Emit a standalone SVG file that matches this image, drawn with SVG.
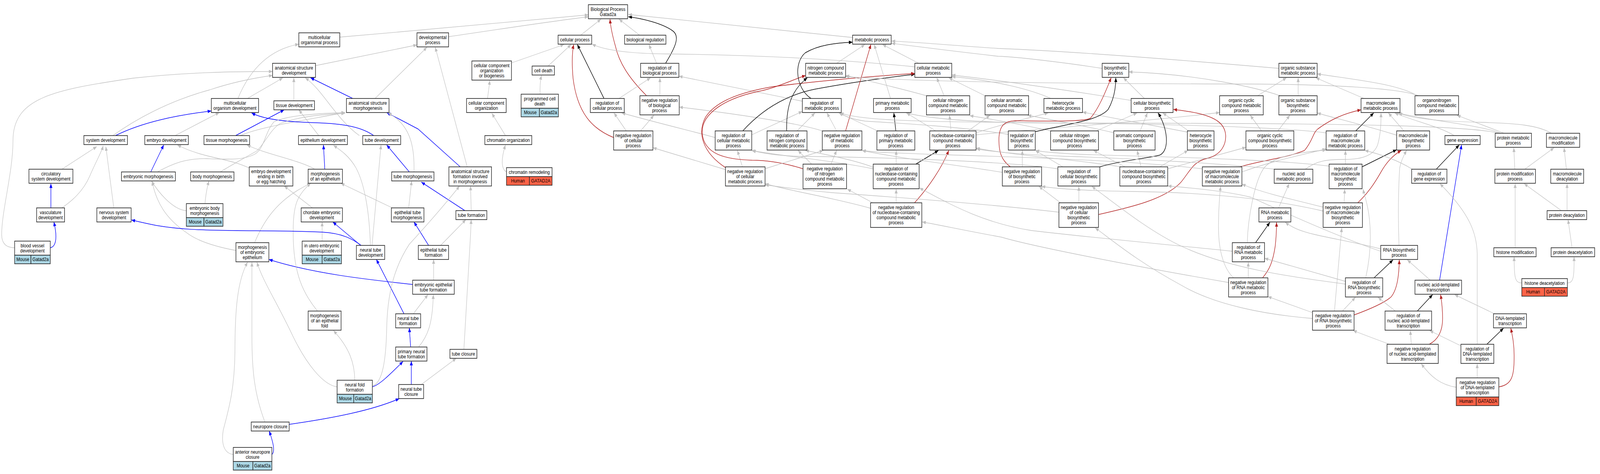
<svg xmlns="http://www.w3.org/2000/svg" width="4808" height="1213" viewBox="0 0 4808 1213" preserveAspectRatio="none">
<style>
svg{width:100vw;height:100vh}
text{font-family:"Liberation Sans",Arial,sans-serif;font-size:12.8px;text-anchor:middle;fill:#000}
.n rect{fill:#fff;stroke:#2b2b2b;stroke-width:1.7}
.n rect.mo{fill:#add8e6}
.n rect.hu{fill:#ff6347}
.eg{fill:none;stroke:#c0c0c0;stroke-width:1.3;marker-end:url(#ag)}
.eb{fill:none;stroke:#0000ff;stroke-width:1.5;marker-end:url(#ab)}
.ek{fill:none;stroke:#000;stroke-width:1.5;marker-end:url(#ak)}
.er{fill:none;stroke:#b22222;stroke-width:1.5;marker-end:url(#ar)}
</style>
<defs>
<marker id="ag" viewBox="0 0 11 9" refX="11" refY="4.5" markerWidth="11" markerHeight="9" markerUnits="userSpaceOnUse" orient="auto"><path d="M0,0L11,4.5L0,9z" fill="#c0c0c0"/></marker>
<marker id="ab" viewBox="0 0 11 9" refX="11" refY="4.5" markerWidth="11" markerHeight="9" markerUnits="userSpaceOnUse" orient="auto"><path d="M0,0L11,4.5L0,9z" fill="#0000ff"/></marker>
<marker id="ak" viewBox="0 0 11 9" refX="11" refY="4.5" markerWidth="11" markerHeight="9" markerUnits="userSpaceOnUse" orient="auto"><path d="M0,0L11,4.5L0,9z" fill="#000"/></marker>
<marker id="ar" viewBox="0 0 11 9" refX="11" refY="4.5" markerWidth="11" markerHeight="9" markerUnits="userSpaceOnUse" orient="auto"><path d="M0,0L11,4.5L0,9z" fill="#b22222"/></marker>
</defs>
<rect x="0" y="0" width="4808" height="1213" fill="#fff"/>
<g id="connectors">
<path class="eg" d="M1021,95 C1300,75 1600,50 1768,38"/>
<path class="eg" d="M1348,94 C1500,75 1650,55 1768,43"/>
<path class="eg" d="M715,252 C740,200 790,130 898,113"/>
<path class="eg" d="M744,252 C770,238 810,220 850,199"/>
<path class="eg" d="M948,168 L1253,115"/>
<path class="eg" d="M1127,252 L1283,121"/>
<path class="eg" d="M1404,427 L1308,121"/>
<path class="eb" d="M1060,252 L933,199"/>
<path class="eb" d="M1383,427 L1256,330 L1162,288"/>
<path class="eg" d="M883,258 L883,199"/>
<path class="eb" d="M708,347 L854,281"/>
<path class="eg" d="M722,347 C780,325 900,310 1037,288"/>
<path class="eg" d="M958,347 L898,281"/>
<path class="eg" d="M1080,347 C1010,305 970,230 917,199"/>
<path class="eb" d="M1123,347 C1090,327 1040,316 944,314 C860,312 790,305 756,289"/>
<path class="eg" d="M526,347 L659,288"/>
<path class="eb" d="M453,440 L492,371"/>
<path class="eg" d="M473,440 C520,418 560,405 620,406 C690,408 730,410 765,395 C795,380 795,340 823,312 C860,295 960,290 1037,288"/>
<path class="eg" d="M662,440 C700,420 740,402 772,386 C800,362 812,332 842,316 C900,297 980,292 1037,290"/>
<path class="eg" d="M616,521 C618,500 622,480 628,463"/>
<path class="eg" d="M560,539 C530,538 490,510 455,463"/>
<path class="eg" d="M749,430 C690,405 610,405 533,371"/>
<path class="eg" d="M939,532 L854,476"/>
<path class="eg" d="M968,617 L968,568"/>
<path class="eg" d="M946,433 C900,410 800,395 742,371"/>
<path class="eg" d="M765,621 C790,570 830,510 934,469"/>
<path class="eg" d="M709,641 C640,630 590,615 560,595 C500,560 470,520 457,464"/>
<path class="eb" d="M1240,728 C1100,715 940,700 808,664"/>
<path class="eg" d="M1303,717 L1303,664"/>
<path class="eb" d="M1288,628 L1244,568"/>
<path class="eg" d="M1324,628 L1400,562"/>
<path class="eg" d="M1228,532 L1237,463"/>
<path class="eg" d="M1179,532 L1024,469"/>
<path class="eb" d="M1230,440 L1162,371"/>
<path class="eg" d="M1244,440 C1246,380 1236,320 1166,289"/>
<path class="eb" d="M1397,539 L1266,466"/>
<path class="eg" d="M1416,539 L1414,476"/>
<path class="eb" d="M1214,803 L1131,664"/>
<path class="eg" d="M1242,803 L1286,754"/>
<path class="eb" d="M1234,888 L1230,839"/>
<path class="eg" d="M1258,888 C1285,860 1300,830 1302,754"/>
<path class="eg" d="M1394,894 L1414,600 L1416,562"/>
<path class="eb" d="M1236,984 L1236,924"/>
<path class="eg" d="M1266,984 L1371,917"/>
<path class="eb" d="M1119,990 C1140,985 1170,960 1211,925"/>
<path class="eg" d="M1066,973 C1066,930 1050,890 1002,846"/>
<path class="eg" d="M1013,990 C970,985 920,930 880,860 C830,770 790,720 772,671"/>
<path class="eg" d="M1119,988 C1150,980 1160,920 1162,840 C1164,760 1180,690 1230,625 C1300,560 1340,520 1381,476"/>
<path class="eg" d="M954,796 C910,750 882,700 881,600 C880,530 890,500 934,469"/>
<path class="eb" d="M869,1086 C1000,1070 1120,1050 1200,1020"/>
<path class="eg" d="M796,1080 C765,1010 757,950 757,860 L757,671"/>
<path class="eb" d="M817,1163 C828,1155 820,1130 809,1103"/>
<path class="eg" d="M701,1163 C670,1160 665,1130 671,1100 C690,1040 705,990 706,900 C706,800 712,720 744,671"/>
<path class="eb" d="M1085,628 C1060,612 1030,597 968,594 C900,591 800,591 700,590 C600,589 540,587 470,577 C440,572 420,568 395,563"/>
<path class="eb" d="M1084,628 L1000,568"/>
<path class="eg" d="M1118,628 L1145,371"/>
<path class="eg" d="M1113,628 C1110,540 1095,470 1070,430 C1050,400 1025,385 1002,372"/>
<path class="eg" d="M186,433 L291,375"/>
<path class="eb" d="M153,532 L153,470"/>
<path class="eg" d="M186,532 C215,515 250,490 270,450 C290,410 305,390 310,373"/>
<path class="eb" d="M151,634 C160,633 168,625 168,605 C168,590 165,580 162,568"/>
<path class="eg" d="M44,634 C15,634 5,620 5,600 C5,540 39,440 39,360 C39,250 160,230 400,200 C560,185 700,183 819,183"/>
<path class="eg" d="M342,532 L318,375"/>
<path class="eb" d="M347,347 C430,312 530,295 635,284"/>
<path class="eg" d="M339,347 C400,310 500,260 630,230 C700,210 760,200 819,193"/>
<path class="eb" d="M976,433 L972,371"/>
<path class="eg" d="M1519,347 L1478,290"/>
<path class="eg" d="M1465,252 L1472,206"/>
<path class="eg" d="M1537,161 L1695,114"/>
<path class="eg" d="M1522,440 C1505,432 1506,405 1519,371"/>
<path class="eg" d="M1623,241 C1622,220 1624,205 1627,193"/>
<path class="eg" d="M1647,169 L1716,114"/>
<path class="eg" d="M1745,90 L1806,49"/>
<path class="eg" d="M1922,90 L1860,49"/>
<path class="ek" d="M2000,162 C2030,120 2045,92 2020,78 C1990,60 1930,47 1888,43"/>
<path class="er" d="M1943,245 C1890,200 1860,160 1849,117 C1840,90 1835,70 1833,49"/>
<path class="eg" d="M2562,96 C2300,75 2050,50 1888,37"/>
<path class="eg" d="M1973,162 L1950,114"/>
<path class="ek" d="M1815,252 L1735,114"/>
<path class="er" d="M1844,352 C1780,330 1735,290 1722,200 C1718,160 1720,130 1724,114"/>
<path class="eg" d="M2749,171 C2500,150 2250,140 2000,138 C1900,137 1820,130 1779,113"/>
<path class="eg" d="M1860,252 L1955,199"/>
<path class="eg" d="M1983,245 L1983,199"/>
<path class="eg" d="M2411,259 L2040,195"/>
<path class="eg" d="M1925,335 L1965,295"/>
<path class="eg" d="M2471,335 C2400,315 2200,290 2041,274"/>
<path class="eg" d="M1882,335 L1845,289"/>
<path class="eg" d="M2149,352 C2100,340 2000,320 1868,289"/>
<path class="eg" d="M2180,434 L1962,378"/>
<path class="eg" d="M2231,427 L2216,385"/>
<path class="ek" d="M2232,335 C2280,290 2350,245 2450,228 C2550,212 2650,200 2749,190"/>
<path class="er" d="M2182,430 C2110,390 2095,340 2120,300 C2150,260 2220,237 2320,222 C2480,205 2620,195 2749,188"/>
<path class="er" d="M2413,432 C2350,415 2300,410 2260,410 C2180,408 2115,395 2110,340 C2108,290 2180,250 2290,232 C2340,222 2380,205 2421,193"/>
<path class="eg" d="M2514,162 L2599,114"/>
<path class="eg" d="M2761,162 L2652,114"/>
<path class="eg" d="M2676,252 L2627,114"/>
<path class="ek" d="M2437,252 C2390,225 2385,160 2420,135 C2460,115 2510,110 2562,108"/>
<path class="er" d="M2541,335 L2617,114"/>
<path class="eg" d="M3843,175 C3500,150 3200,130 3000,124 C2850,115 2750,108 2679,105"/>
<path class="eg" d="M3312,175 C3200,160 3050,145 3000,144 C2850,130 2750,118 2679,111"/>
<path class="eg" d="M2514,335 L2485,289"/>
<path class="eg" d="M2395,335 L2449,289"/>
<path class="eg" d="M2259,345 L2411,285"/>
<path class="eg" d="M2637,335 L2521,289"/>
<path class="ek" d="M2692,335 L2686,289"/>
<path class="eg" d="M2298,432 L2474,385"/>
<path class="ek" d="M2364,335 C2362,270 2380,230 2426,199"/>
<path class="eg" d="M2439,420 L2398,385"/>
<path class="eg" d="M2497,420 L2514,385"/>
<path class="eg" d="M2693,420 L2693,385"/>
<path class="eg" d="M2624,428 C2570,410 2480,395 2420,385"/>
<path class="eg" d="M2624,432 C2500,410 2350,400 2258,385"/>
<path class="ek" d="M2752,420 L2820,385"/>
<path class="eg" d="M2693,519 L2693,484"/>
<path class="eg" d="M2623,519 L2546,484"/>
<path class="er" d="M2748,519 C2790,480 2830,430 2851,385"/>
<path class="eg" d="M2616,533 C2500,505 2380,490 2299,470"/>
<path class="eg" d="M3182,543 C3000,525 2700,505 2500,493 C2400,485 2340,478 2299,473"/>
<path class="eg" d="M2858,335 L2853,295"/>
<path class="eg" d="M2909,335 L2975,295"/>
<path class="eg" d="M2933,340 C3000,320 3100,300 3150,289"/>
<path class="eg" d="M2933,345 C3100,330 3400,315 3665,288"/>
<path class="eg" d="M2812,335 L2724,289"/>
<path class="eg" d="M2837,245 L2815,199"/>
<path class="eg" d="M2784,245 C2700,225 2600,205 2541,193"/>
<path class="eg" d="M2960,245 L2851,199"/>
<path class="eg" d="M3158,252 C3100,230 3000,207 2860,196"/>
<path class="eg" d="M3399,257 C3200,230 3000,205 2860,192"/>
<path class="eg" d="M3439,252 L3376,199"/>
<path class="eg" d="M3779,245 L3866,199"/>
<path class="eg" d="M3901,245 L3901,199"/>
<path class="eg" d="M3847,245 C3780,225 3600,190 3392,184"/>
<path class="eg" d="M4099,252 L3954,199"/>
<path class="eg" d="M4259,245 C4200,215 4080,205 3958,189"/>
<path class="eg" d="M4264,245 C4200,225 4000,216 3750,215 C3300,214 2800,212 2541,196"/>
<path class="eg" d="M4510,341 C4450,320 4300,310 4200,289"/>
<path class="eg" d="M4520,341 L4378,295"/>
<path class="eg" d="M4505,341 C4400,318 3900,315 3200,315 C2950,315 2800,305 2723,289"/>
<path class="eg" d="M4662,341 C4620,320 4560,316 4450,313 C4300,310 4230,300 4203,289"/>
<path class="eg" d="M4552,433 L4549,378"/>
<path class="eg" d="M4582,433 L4670,378"/>
<path class="eg" d="M4707,433 L4700,378"/>
<path class="eg" d="M4692,539 L4580,470"/>
<path class="eg" d="M4709,539 L4709,470"/>
<path class="eg" d="M4553,634 L4553,470"/>
<path class="eg" d="M4724,634 L4712,562"/>
<path class="eg" d="M4573,724 C4552,724 4550,710 4550,657"/>
<path class="eg" d="M4710,724 C4728,724 4731,710 4730,657"/>
<path class="eg" d="M3791,335 L3757,295"/>
<path class="eg" d="M3840,335 L3876,295"/>
<path class="eg" d="M4219,335 L4172,289"/>
<path class="eg" d="M4197,346 C4100,320 4000,300 3958,289"/>
<path class="eg" d="M3294,335 L3417,289"/>
<path class="eg" d="M3157,335 C3050,315 2980,305 2914,296"/>
<path class="eg" d="M3426,335 L3448,289"/>
<path class="eg" d="M3348,340 C3250,320 3150,305 3088,295"/>
<path class="eg" d="M3568,338 L3253,287"/>
<path class="eg" d="M3572,335 L3494,289"/>
<path class="eg" d="M3368,427 C3250,410 3050,398 2933,379"/>
<path class="eg" d="M3429,427 L3417,385"/>
<path class="eg" d="M3485,427 L3570,385"/>
<path class="eg" d="M3381,427 L3286,385"/>
<path class="eg" d="M3509,432 L3744,377"/>
<path class="ek" d="M3111,337 C3200,318 3300,310 3330,280 C3350,250 3353,220 3353,199"/>
<path class="eg" d="M3030,344 C2900,325 2700,315 2600,310 C2560,305 2540,298 2521,289"/>
<path class="eg" d="M3985,340 C3800,320 3300,315 3000,313 C2700,311 2580,305 2524,289"/>
<path class="eg" d="M3072,427 L3072,385"/>
<path class="eg" d="M3012,441 C2900,425 2700,405 2590,385"/>
<path class="er" d="M3036,427 C3010,410 3000,390 3002,350 C3005,320 3020,310 3050,309 C3150,310 3250,312 3276,303 C3300,280 3320,240 3339,199"/>
<path class="eg" d="M3194,427 L3111,385"/>
<path class="ek" d="M3305,427 C3360,412 3450,405 3485,397 C3515,385 3510,330 3480,289"/>
<path class="eg" d="M3179,432 C3000,410 2600,402 2400,400 C2330,398 2290,392 2260,385"/>
<path class="eg" d="M3242,519 L3242,477"/>
<path class="eg" d="M3187,519 L3122,477"/>
<path class="er" d="M3301,549 C3400,530 3500,510 3548,467 C3575,440 3585,412 3630,405 C3670,395 3685,370 3683,345 C3680,315 3650,300 3600,290 C3570,284 3545,282 3526,280"/>
<path class="eg" d="M3732,440 C3830,410 3920,395 3985,381"/>
<path class="eg" d="M3613,432 C3400,410 3000,400 2800,395 C2700,392 2630,390 2591,385"/>
<path class="er" d="M3726,427 C3790,410 3860,406 3920,385 C3945,360 3945,340 3960,330 C4000,305 4040,290 4090,281"/>
<path class="ek" d="M4074,335 L4128,289"/>
<path class="eg" d="M4043,420 L4043,385"/>
<path class="eg" d="M3994,425 C3800,405 3400,400 3250,395 C3170,392 3130,388 3112,385"/>
<path class="ek" d="M4093,427 L4197,383"/>
<path class="eg" d="M4039,519 L4041,484"/>
<path class="eg" d="M3976,530 C3880,510 3780,490 3732,471"/>
<path class="eg" d="M3976,540 C3800,505 3600,492 3400,490 C3250,488 3170,482 3130,477"/>
<path class="er" d="M4080,519 C4110,495 4130,470 4150,440 C4170,410 4190,395 4211,385"/>
<path class="eg" d="M4370,347 C4330,325 4250,310 4191,289"/>
<path class="eg" d="M4244,433 C4200,410 4150,395 4101,385"/>
<path class="ek" d="M4316,433 L4385,371"/>
<path class="eb" d="M4326,717 L4392,371"/>
<path class="eg" d="M3830,433 C3700,420 3400,405 3200,400 C3050,395 2980,388 2934,381"/>
<path class="eg" d="M3922,433 C3960,410 3990,408 4040,408 C4100,408 4130,395 4140,370 C4150,340 4150,310 4150,289"/>
<path class="eg" d="M3842,532 L3874,470"/>
<path class="ek" d="M3773,621 L3816,569"/>
<path class="eg" d="M3703,643 C3500,625 3300,610 3100,590 C2950,570 2850,520 2763,481"/>
<path class="eg" d="M3748,621 C3750,560 3770,460 3800,428 C3830,400 3900,390 3985,384"/>
<path class="eg" d="M3751,711 L3751,671"/>
<path class="eg" d="M3692,723 C3400,680 3100,630 3010,607 C2900,590 2820,575 2771,568"/>
<path class="eg" d="M3707,711 C3680,690 3665,650 3662,600 C3660,540 3665,500 3668,477"/>
<path class="er" d="M3794,711 C3815,690 3825,670 3832,630 C3836,600 3836,580 3836,569"/>
<path class="eg" d="M4149,637 C4100,625 4000,610 3950,600 C3900,590 3880,580 3862,569"/>
<path class="eg" d="M4204,628 C4202,580 4201,500 4206,430 C4210,410 4220,395 4227,385"/>
<path class="eg" d="M4149,643 C4000,600 3800,520 3760,505 C3700,492 3600,482 3509,476"/>
<path class="eg" d="M4043,720 L3800,661"/>
<path class="eg" d="M4104,711 C4120,650 4120,600 4115,560 C4110,520 4100,500 4096,484"/>
<path class="ek" d="M4129,711 L4186,665"/>
<path class="eg" d="M4043,727 C3900,710 3700,690 3550,630 C3450,590 3350,520 3281,477"/>
<path class="eg" d="M4034,796 L4073,761"/>
<path class="eg" d="M3944,800 L3810,759"/>
<path class="eg" d="M4010,796 L4032,583"/>
<path class="eg" d="M3944,815 C3800,805 3650,780 3550,730 C3420,670 3350,620 3291,583"/>
<path class="er" d="M4069,806 C4120,790 4160,775 4180,760 C4200,740 4204,700 4205,665"/>
<path class="eg" d="M4298,717 L4229,665"/>
<path class="eg" d="M4193,796 L4141,761"/>
<path class="ek" d="M4259,796 L4305,754"/>
<path class="eg" d="M4241,881 L4238,846"/>
<path class="eg" d="M4175,881 L4066,846"/>
<path class="er" d="M4295,881 C4320,870 4335,850 4335,815 C4335,790 4332,770 4329,754"/>
<path class="eg" d="M4491,803 L4371,754"/>
<path class="eg" d="M4390,885 L4296,846"/>
<path class="ek" d="M4468,881 L4518,840"/>
<path class="eg" d="M4439,881 L4439,650 C4438,600 4420,550 4327,470"/>
<path class="eg" d="M4439,967 L4439,931"/>
<path class="eg" d="M4376,991 C4330,985 4300,965 4271,931"/>
<path class="er" d="M4504,990 C4545,985 4550,960 4550,910 C4550,880 4545,860 4540,840"/>
</g>
<g id="nodes">
<g id="n_bp" class="n"><rect x="1768" y="12" width="118" height="36"/><text x="1827" y="28">Biological Process</text><text x="1827" y="41">Gatad2a</text></g>
<g id="n_mop" class="n"><rect x="898" y="84" width="123" height="36"/><text x="959.5" y="100">multicellular</text><text x="959.5" y="113">organismal process</text></g>
<g id="n_dev" class="n"><rect x="1253" y="84" width="95" height="36"/><text x="1300.5" y="100">developmental</text><text x="1300.5" y="113">process</text></g>
<g id="n_cp" class="n"><rect x="1677" y="90" width="101" height="23"/><text x="1727.5" y="106">cellular process</text></g>
<g id="n_br" class="n"><rect x="1877" y="90" width="124" height="23"/><text x="1939" y="106">biological regulation</text></g>
<g id="n_mp" class="n"><rect x="2562" y="90" width="116" height="23"/><text x="2620" y="106">metabolic process</text></g>
<g id="n_asd" class="n"><rect x="819" y="162" width="129" height="36"/><text x="883.5" y="178">anatomical structure</text><text x="883.5" y="191">development</text></g>
<g id="n_ccob" class="n"><rect x="1418" y="156" width="119" height="49"/><text x="1477.5" y="172">cellular component</text><text x="1477.5" y="185">organization</text><text x="1477.5" y="198">or biogenesis</text></g>
<g id="n_celldeath" class="n"><rect x="1599" y="169" width="67" height="23"/><text x="1632.5" y="185">cell death</text></g>
<g id="n_rbp" class="n"><rect x="1925" y="162" width="115" height="36"/><text x="1982.5" y="178">regulation of</text><text x="1982.5" y="191">biological process</text></g>
<g id="n_ncmp" class="n"><rect x="2421" y="162" width="120" height="36"/><text x="2481" y="178">nitrogen compound</text><text x="2481" y="191">metabolic process</text></g>
<g id="n_cmp" class="n"><rect x="2749" y="162" width="111" height="36"/><text x="2804.5" y="178">cellular metabolic</text><text x="2804.5" y="191">process</text></g>
<g id="n_bsp" class="n"><rect x="3312" y="162" width="80" height="36"/><text x="3352" y="178">biosynthetic</text><text x="3352" y="191">process</text></g>
<g id="n_osmp" class="n"><rect x="3843" y="162" width="115" height="36"/><text x="3900.5" y="178">organic substance</text><text x="3900.5" y="191">metabolic process</text></g>
<g id="n_pcd" class="n"><rect x="1566" y="241" width="112" height="36"/><text x="1622" y="257">programmed cell</text><text x="1622" y="270">death</text><rect class="mo" x="1566" y="277" width="55" height="22"/><rect class="mo" x="1621" y="277" width="57" height="22"/><text x="1593.5" y="292.5">Mouse</text><text x="1649.5" y="292.5">Gatad2a</text></g>
<g id="n_mod" class="n"><rect x="635" y="252" width="142" height="36"/><text x="706" y="268">multicellular</text><text x="706" y="281">organism development</text></g>
<g id="n_tisdev" class="n"><rect x="823" y="258" width="122" height="23"/><text x="884" y="274">tissue development</text></g>
<g id="n_asm" class="n"><rect x="1041" y="252" width="128" height="36"/><text x="1105" y="268">anatomical structure</text><text x="1105" y="281">morphogenesis</text></g>
<g id="n_cco" class="n"><rect x="1402" y="252" width="119" height="36"/><text x="1461.5" y="268">cellular component</text><text x="1461.5" y="281">organization</text></g>
<g id="n_rcp" class="n"><rect x="1774" y="252" width="102" height="36"/><text x="1825" y="268">regulation of</text><text x="1825" y="281">cellular process</text></g>
<g id="n_nrbp" class="n"><rect x="1923" y="245" width="118" height="49"/><text x="1982" y="261">negative regulation</text><text x="1982" y="274">of biological</text><text x="1982" y="287">process</text></g>
<g id="n_rmp" class="n"><rect x="2411" y="252" width="117" height="36"/><text x="2469.5" y="268">regulation of</text><text x="2469.5" y="281">metabolic process</text></g>
<g id="n_pmp" class="n"><rect x="2625" y="252" width="113" height="36"/><text x="2681.5" y="268">primary metabolic</text><text x="2681.5" y="281">process</text></g>
<g id="n_cncmp" class="n"><rect x="2784" y="245" width="130" height="49"/><text x="2849" y="261">cellular nitrogen</text><text x="2849" y="274">compound metabolic</text><text x="2849" y="287">process</text></g>
<g id="n_cacmp" class="n"><rect x="2960" y="245" width="131" height="49"/><text x="3025.5" y="261">cellular aromatic</text><text x="3025.5" y="274">compound metabolic</text><text x="3025.5" y="287">process</text></g>
<g id="n_hmp" class="n"><rect x="3137" y="252" width="116" height="36"/><text x="3195" y="268">heterocycle</text><text x="3195" y="281">metabolic process</text></g>
<g id="n_cbsp" class="n"><rect x="3399" y="252" width="126" height="36"/><text x="3462" y="268">cellular biosynthetic</text><text x="3462" y="281">process</text></g>
<g id="n_occmp" class="n"><rect x="3665" y="245" width="131" height="49"/><text x="3730.5" y="261">organic cyclic</text><text x="3730.5" y="274">compound metabolic</text><text x="3730.5" y="287">process</text></g>
<g id="n_osbp" class="n"><rect x="3843" y="245" width="115" height="49"/><text x="3900.5" y="261">organic substance</text><text x="3900.5" y="274">biosynthetic</text><text x="3900.5" y="287">process</text></g>
<g id="n_mmp" class="n"><rect x="4090" y="252" width="117" height="36"/><text x="4148.5" y="268">macromolecule</text><text x="4148.5" y="281">metabolic process</text></g>
<g id="n_oncmp" class="n"><rect x="4252" y="245" width="131" height="49"/><text x="4317.5" y="261">organonitrogen</text><text x="4317.5" y="274">compound metabolic</text><text x="4317.5" y="287">process</text></g>
<g id="n_sysdev" class="n"><rect x="252" y="347" width="131" height="23"/><text x="317.5" y="363">system development</text></g>
<g id="n_embdev" class="n"><rect x="435" y="347" width="131" height="23"/><text x="500.5" y="363">embryo development</text></g>
<g id="n_tismorph" class="n"><rect x="613" y="347" width="137" height="23"/><text x="681.5" y="363">tissue morphogenesis</text></g>
<g id="n_epidev" class="n"><rect x="897" y="347" width="147" height="23"/><text x="970.5" y="363">epithelium development</text></g>
<g id="n_tubedev" class="n"><rect x="1090" y="347" width="114" height="23"/><text x="1147" y="363">tube development</text></g>
<g id="n_chromorg" class="n"><rect x="1457" y="347" width="141" height="23"/><text x="1527.5" y="363">chromatin organization</text></g>
<g id="n_nrcp" class="n"><rect x="1844" y="335" width="118" height="49"/><text x="1903" y="351">negative regulation</text><text x="1903" y="364">of cellular</text><text x="1903" y="377">process</text></g>
<g id="n_rcmp" class="n"><rect x="2149" y="335" width="110" height="49"/><text x="2204" y="351">regulation of</text><text x="2204" y="364">cellular metabolic</text><text x="2204" y="377">process</text></g>
<g id="n_rncmp" class="n"><rect x="2305" y="335" width="120" height="49"/><text x="2365" y="351">regulation of</text><text x="2365" y="364">nitrogen compound</text><text x="2365" y="377">metabolic process</text></g>
<g id="n_nrmp" class="n"><rect x="2471" y="335" width="119" height="49"/><text x="2530.5" y="351">negative regulation</text><text x="2530.5" y="364">of metabolic</text><text x="2530.5" y="377">process</text></g>
<g id="n_rpmp" class="n"><rect x="2635" y="335" width="114" height="49"/><text x="2692" y="351">regulation of</text><text x="2692" y="364">primary metabolic</text><text x="2692" y="377">process</text></g>
<g id="n_nccmp" class="n"><rect x="2794" y="335" width="139" height="49"/><text x="2863.5" y="351">nucleobase-containing</text><text x="2863.5" y="364">compound metabolic</text><text x="2863.5" y="377">process</text></g>
<g id="n_rbsp" class="n"><rect x="3030" y="335" width="81" height="49"/><text x="3070.5" y="351">regulation of</text><text x="3070.5" y="364">biosynthetic</text><text x="3070.5" y="377">process</text></g>
<g id="n_cncbsp" class="n"><rect x="3157" y="335" width="144" height="49"/><text x="3229" y="351">cellular nitrogen</text><text x="3229" y="364">compound biosynthetic</text><text x="3229" y="377">process</text></g>
<g id="n_acbsp" class="n"><rect x="3347" y="335" width="124" height="49"/><text x="3409" y="351">aromatic compound</text><text x="3409" y="364">biosynthetic</text><text x="3409" y="377">process</text></g>
<g id="n_hbsp" class="n"><rect x="3568" y="335" width="80" height="49"/><text x="3608" y="351">heterocycle</text><text x="3608" y="364">biosynthetic</text><text x="3608" y="377">process</text></g>
<g id="n_occbsp" class="n"><rect x="3744" y="335" width="144" height="49"/><text x="3816" y="351">organic cyclic</text><text x="3816" y="364">compound biosynthetic</text><text x="3816" y="377">process</text></g>
<g id="n_rmmp" class="n"><rect x="3985" y="335" width="116" height="49"/><text x="4043" y="351">regulation of</text><text x="4043" y="364">macromolecule</text><text x="4043" y="377">metabolic process</text></g>
<g id="n_mbsp" class="n"><rect x="4197" y="335" width="99" height="49"/><text x="4246.5" y="351">macromolecule</text><text x="4246.5" y="364">biosynthetic</text><text x="4246.5" y="377">process</text></g>
<g id="n_ge" class="n"><rect x="4342" y="347" width="106" height="23"/><text x="4395" y="363">gene expression</text></g>
<g id="n_protmp" class="n"><rect x="4493" y="341" width="109" height="36"/><text x="4547.5" y="357">protein metabolic</text><text x="4547.5" y="370">process</text></g>
<g id="n_macmod" class="n"><rect x="4647" y="341" width="100" height="36"/><text x="4697" y="357">macromolecule</text><text x="4697" y="370">modification</text></g>
<g id="n_circ" class="n"><rect x="87" y="433" width="132" height="36"/><text x="153" y="449">circulatory</text><text x="153" y="462">system development</text></g>
<g id="n_embmorph" class="n"><rect x="365" y="440" width="162" height="23"/><text x="446" y="456">embryonic morphogenesis</text></g>
<g id="n_bodymorph" class="n"><rect x="573" y="440" width="130" height="23"/><text x="638" y="456">body morphogenesis</text></g>
<g id="n_edeb" class="n"><rect x="749" y="427" width="131" height="49"/><text x="814.5" y="443">embryo development</text><text x="814.5" y="456">ending in birth</text><text x="814.5" y="469">or egg hatching</text></g>
<g id="n_moe" class="n"><rect x="926" y="433" width="103" height="36"/><text x="977.5" y="449">morphogenesis</text><text x="977.5" y="462">of an epithelium</text></g>
<g id="n_tubemorph" class="n"><rect x="1177" y="440" width="127" height="23"/><text x="1240.5" y="456">tube morphogenesis</text></g>
<g id="n_asfim" class="n"><rect x="1349" y="427" width="128" height="49"/><text x="1413" y="443">anatomical structure</text><text x="1413" y="456">formation involved</text><text x="1413" y="469">in morphogenesis</text></g>
<g id="n_cr" class="n"><rect x="1522" y="429" width="137" height="23"/><text x="1590.5" y="445">chromatin remodeling</text><rect class="hu" x="1522" y="452" width="69" height="22"/><rect class="hu" x="1591" y="452" width="68" height="22"/><text x="1556.5" y="467.5">Human</text><text x="1625" y="467.5">GATAD2A</text></g>
<g id="n_nrcmp" class="n"><rect x="2180" y="427" width="119" height="49"/><text x="2239.5" y="443">negative regulation</text><text x="2239.5" y="456">of cellular</text><text x="2239.5" y="469">metabolic process</text></g>
<g id="n_nrncmp" class="n"><rect x="2413" y="420" width="131" height="63"/><text x="2478.5" y="436.5">negative regulation</text><text x="2478.5" y="449.5">of nitrogen</text><text x="2478.5" y="462.5">compound metabolic</text><text x="2478.5" y="475.5">process</text></g>
<g id="n_rnccmp" class="n"><rect x="2624" y="420" width="138" height="63"/><text x="2693" y="436.5">regulation of</text><text x="2693" y="449.5">nucleobase-containing</text><text x="2693" y="462.5">compound metabolic</text><text x="2693" y="475.5">process</text></g>
<g id="n_nrbsp" class="n"><rect x="3012" y="427" width="118" height="49"/><text x="3071" y="443">negative regulation</text><text x="3071" y="456">of biosynthetic</text><text x="3071" y="469">process</text></g>
<g id="n_rcbsp" class="n"><rect x="3179" y="427" width="126" height="49"/><text x="3242" y="443">regulation of</text><text x="3242" y="456">cellular biosynthetic</text><text x="3242" y="469">process</text></g>
<g id="n_nccbsp" class="n"><rect x="3365" y="427" width="144" height="49"/><text x="3437" y="443">nucleobase-containing</text><text x="3437" y="456">compound biosynthetic</text><text x="3437" y="469">process</text></g>
<g id="n_nrmmp" class="n"><rect x="3613" y="427" width="119" height="49"/><text x="3672.5" y="443">negative regulation</text><text x="3672.5" y="456">of macromolecule</text><text x="3672.5" y="469">metabolic process</text></g>
<g id="n_namp" class="n"><rect x="3829" y="433" width="116" height="36"/><text x="3887" y="449">nucleic acid</text><text x="3887" y="462">metabolic process</text></g>
<g id="n_rmbsp" class="n"><rect x="3994" y="420" width="99" height="63"/><text x="4043.5" y="436.5">regulation of</text><text x="4043.5" y="449.5">macromolecule</text><text x="4043.5" y="462.5">biosynthetic</text><text x="4043.5" y="475.5">process</text></g>
<g id="n_rge" class="n"><rect x="4242" y="433" width="106" height="36"/><text x="4295" y="449">regulation of</text><text x="4295" y="462">gene expression</text></g>
<g id="n_pmodp" class="n"><rect x="4492" y="433" width="122" height="36"/><text x="4553" y="449">protein modification</text><text x="4553" y="462">process</text></g>
<g id="n_macdeac" class="n"><rect x="4660" y="433" width="99" height="36"/><text x="4709.5" y="449">macromolecule</text><text x="4709.5" y="462">deacylation</text></g>
<g id="n_vasc" class="n"><rect x="110" y="532" width="84" height="36"/><text x="152" y="548">vasculature</text><text x="152" y="561">development</text></g>
<g id="n_nsd" class="n"><rect x="291" y="532" width="103" height="36"/><text x="342.5" y="548">nervous system</text><text x="342.5" y="561">development</text></g>
<g id="n_ebm" class="n"><rect x="560" y="521" width="110" height="36"/><text x="615" y="537">embryonic body</text><text x="615" y="550">morphogenesis</text><rect class="mo" x="560" y="557" width="53" height="22"/><rect class="mo" x="613" y="557" width="57" height="22"/><text x="586.5" y="572.5">Mouse</text><text x="641.5" y="572.5">Gatad2a</text></g>
<g id="n_ced" class="n"><rect x="905" y="532" width="124" height="36"/><text x="967" y="548">chordate embryonic</text><text x="967" y="561">development</text></g>
<g id="n_etm" class="n"><rect x="1176" y="532" width="98" height="36"/><text x="1225" y="548">epithelial tube</text><text x="1225" y="561">morphogenesis</text></g>
<g id="n_tubeform" class="n"><rect x="1370" y="539" width="93" height="23"/><text x="1416.5" y="555">tube formation</text></g>
<g id="n_protdeacyl" class="n"><rect x="4649" y="539" width="119" height="23"/><text x="4708.5" y="555">protein deacylation</text></g>
<g id="n_nrnccmp" class="n"><rect x="2616" y="519" width="154" height="63"/><text x="2693" y="535.5">negative regulation</text><text x="2693" y="548.5">of nucleobase-containing</text><text x="2693" y="561.5">compound metabolic</text><text x="2693" y="574.5">process</text></g>
<g id="n_nrcbsp" class="n"><rect x="3182" y="519" width="119" height="63"/><text x="3241.5" y="535.5">negative regulation</text><text x="3241.5" y="548.5">of cellular</text><text x="3241.5" y="561.5">biosynthetic</text><text x="3241.5" y="574.5">process</text></g>
<g id="n_rnamp" class="n"><rect x="3783" y="532" width="96" height="36"/><text x="3831" y="548">RNA metabolic</text><text x="3831" y="561">process</text></g>
<g id="n_nrmbsp" class="n"><rect x="3976" y="519" width="118" height="63"/><text x="4035" y="535.5">negative regulation</text><text x="4035" y="548.5">of macromolecule</text><text x="4035" y="561.5">biosynthetic</text><text x="4035" y="574.5">process</text></g>
<g id="n_bvd" class="n"><rect x="44" y="617" width="107" height="36"/><text x="97.5" y="633">blood vessel</text><text x="97.5" y="646">development</text><rect class="mo" x="44" y="653" width="49" height="22"/><rect class="mo" x="93" y="653" width="58" height="22"/><text x="68.5" y="668.5">Mouse</text><text x="122" y="668.5">Gatad2a</text></g>
<g id="n_moee" class="n"><rect x="709" y="621" width="99" height="49"/><text x="758.5" y="637">morphogenesis</text><text x="758.5" y="650">of embryonic</text><text x="758.5" y="663">epithelium</text></g>
<g id="n_iued" class="n"><rect x="908" y="617" width="118" height="36"/><text x="967" y="633">in utero embryonic</text><text x="967" y="646">development</text><rect class="mo" x="908" y="653" width="60" height="22"/><rect class="mo" x="968" y="653" width="58" height="22"/><text x="938" y="668.5">Mouse</text><text x="997" y="668.5">Gatad2a</text></g>
<g id="n_ntd" class="n"><rect x="1071" y="628" width="85" height="36"/><text x="1113.5" y="644">neural tube</text><text x="1113.5" y="657">development</text></g>
<g id="n_etf" class="n"><rect x="1257" y="628" width="91" height="36"/><text x="1302.5" y="644">epithelial tube</text><text x="1302.5" y="657">formation</text></g>
<g id="n_rrnamp" class="n"><rect x="3703" y="621" width="97" height="49"/><text x="3751.5" y="637">regulation of</text><text x="3751.5" y="650">RNA metabolic</text><text x="3751.5" y="663">process</text></g>
<g id="n_rnabsp" class="n"><rect x="4149" y="628" width="111" height="36"/><text x="4204.5" y="644">RNA biosynthetic</text><text x="4204.5" y="657">process</text></g>
<g id="n_histmod" class="n"><rect x="4489" y="634" width="127" height="23"/><text x="4552.5" y="650">histone modification</text></g>
<g id="n_protdeacet" class="n"><rect x="4661" y="634" width="131" height="23"/><text x="4726.5" y="650">protein deacetylation</text></g>
<g id="n_eetf" class="n"><rect x="1240" y="717" width="125" height="36"/><text x="1302.5" y="733">embryonic epithelial</text><text x="1302.5" y="746">tube formation</text></g>
<g id="n_nrrnamp" class="n"><rect x="3692" y="711" width="118" height="49"/><text x="3751" y="727">negative regulation</text><text x="3751" y="740">of RNA metabolic</text><text x="3751" y="753">process</text></g>
<g id="n_rrnabsp" class="n"><rect x="4043" y="711" width="112" height="49"/><text x="4099" y="727">regulation of</text><text x="4099" y="740">RNA biosynthetic</text><text x="4099" y="753">process</text></g>
<g id="n_natt" class="n"><rect x="4252" y="717" width="140" height="36"/><text x="4322" y="733">nucleic acid-templated</text><text x="4322" y="746">transcription</text></g>
<g id="n_histdeac" class="n"><rect x="4573" y="713" width="137" height="23"/><text x="4641.5" y="729">histone deacetylation</text><rect class="hu" x="4573" y="736" width="68" height="22"/><rect class="hu" x="4641" y="736" width="69" height="22"/><text x="4607" y="751.5">Human</text><text x="4675.5" y="751.5">GATAD2A</text></g>
<g id="n_moef" class="n"><rect x="926" y="796" width="99" height="49"/><text x="975.5" y="812">morphogenesis</text><text x="975.5" y="825">of an epithelial</text><text x="975.5" y="838">fold</text></g>
<g id="n_ntf" class="n"><rect x="1189" y="803" width="75" height="36"/><text x="1226.5" y="819">neural tube</text><text x="1226.5" y="832">formation</text></g>
<g id="n_nrrnabsp" class="n"><rect x="3944" y="796" width="125" height="49"/><text x="4006.5" y="812">negative regulation</text><text x="4006.5" y="825">of RNA biosynthetic</text><text x="4006.5" y="838">process</text></g>
<g id="n_rnatt" class="n"><rect x="4162" y="796" width="140" height="49"/><text x="4232" y="812">regulation of</text><text x="4232" y="825">nucleic acid-templated</text><text x="4232" y="838">transcription</text></g>
<g id="n_dnatt" class="n"><rect x="4488" y="803" width="99" height="36"/><text x="4537.5" y="819">DNA-templated</text><text x="4537.5" y="832">transcription</text></g>
<g id="n_pntf" class="n"><rect x="1189" y="888" width="94" height="36"/><text x="1236" y="904">primary neural</text><text x="1236" y="917">tube formation</text></g>
<g id="n_tubeclos" class="n"><rect x="1352" y="894" width="81" height="23"/><text x="1392.5" y="910">tube closure</text></g>
<g id="n_nrnatt" class="n"><rect x="4168" y="881" width="154" height="49"/><text x="4245" y="897">negative regulation</text><text x="4245" y="910">of nucleic acid-templated</text><text x="4245" y="923">transcription</text></g>
<g id="n_rdnatt" class="n"><rect x="4390" y="881" width="99" height="49"/><text x="4439.5" y="897">regulation of</text><text x="4439.5" y="910">DNA-templated</text><text x="4439.5" y="923">transcription</text></g>
<g id="n_nff" class="n"><rect x="1013" y="973" width="106" height="36"/><text x="1066" y="989">neural fold</text><text x="1066" y="1002">formation</text><rect class="mo" x="1013" y="1009" width="50" height="22"/><rect class="mo" x="1063" y="1009" width="56" height="22"/><text x="1038" y="1024.5">Mouse</text><text x="1091" y="1024.5">Gatad2a</text></g>
<g id="n_ntc" class="n"><rect x="1198" y="984" width="75" height="36"/><text x="1235.5" y="1000">neural tube</text><text x="1235.5" y="1013">closure</text></g>
<g id="n_nrdnatt" class="n"><rect x="4376" y="967" width="128" height="49"/><text x="4440" y="983">negative regulation</text><text x="4440" y="996">of DNA-templated</text><text x="4440" y="1009">transcription</text><rect class="hu" x="4376" y="1016" width="60" height="22"/><rect class="hu" x="4436" y="1016" width="68" height="22"/><text x="4406" y="1031.5">Human</text><text x="4470" y="1031.5">GATAD2A</text></g>
<g id="n_npc" class="n"><rect x="755" y="1080" width="114" height="23"/><text x="812" y="1096">neuropore closure</text></g>
<g id="n_anc" class="n"><rect x="701" y="1145" width="116" height="36"/><text x="759" y="1161">anterior neuropore</text><text x="759" y="1174">closure</text><rect class="mo" x="701" y="1181" width="59" height="22"/><rect class="mo" x="760" y="1181" width="57" height="22"/><text x="730.5" y="1196.5">Mouse</text><text x="788.5" y="1196.5">Gatad2a</text></g>
</g>
</svg>
